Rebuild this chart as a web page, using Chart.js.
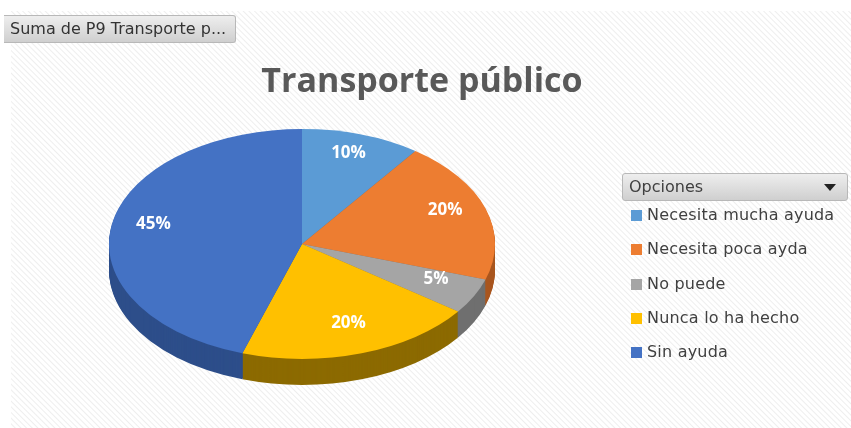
<!DOCTYPE html>
<html>
<head>
<meta charset="utf-8">
<script src="https://cdn.jsdelivr.net/npm/chart.js@4.4.1/dist/chart.umd.min.js"></script>
<style>
  html, body { margin: 0; padding: 0; background: #fff; }
  #wrap {
    position: relative; width: 851px; height: 428px; overflow: hidden;
    font-family: "DejaVu Sans", sans-serif;
  }
  #bg {
    position: absolute; left: 11px; top: 11px; right: 0; bottom: 0;
    background: repeating-linear-gradient(45deg, #ffffff 0px, #ffffff 2px, #eeeeee 3px, #ffffff 4px);
  }
  #chart { position: absolute; left: 0; top: 0; }
  .btn {
    position: absolute; box-sizing: border-box;
    background: linear-gradient(#eeeeee, #cfcfcf);
    border: 1px solid #b8b8b8; border-radius: 3px;
    color: #333; font-size: 16px; line-height: 26px; white-space: nowrap;
  }
  #fieldBtn { left: 4px; top: 15px; width: 232px; height: 28px; padding-left: 6px; border-left: none; border-radius: 0 3px 3px 0; }
  #optBtn { left: 622px; top: 173px; width: 226px; height: 28px; padding-left: 6px; color: #404040; }
  #optBtn .arrow {
    position: absolute; right: 11px; top: 10px; width: 0; height: 0;
    border-left: 6px solid transparent; border-right: 6px solid transparent; border-top: 7px solid #222;
  }
  #legend { position: absolute; left: 631px; top: 205px; margin: 0; padding: 0; list-style: none; }
  #legend li { height: 34.3px; font-size: 16px; letter-spacing: 0.2px; color: #404040; white-space: nowrap; display: flex; align-items: flex-start; }
  #legend span.box { display: inline-block; width: 11px; height: 11px; margin: 5px 5px 0 0; }
</style>
</head>
<body>
<div id="wrap">
  <div id="bg"></div>
  <canvas id="chart" width="851" height="428"></canvas>
  <div class="btn" id="fieldBtn">Suma de P9 Transporte p...</div>
  <div class="btn" id="optBtn">Opciones<span class="arrow"></span></div>
  <ul id="legend"></ul>
</div>
<script>
// ===== DATA =====
const chartTitle = "Transporte público";
const categories = ["Necesita mucha ayuda", "Necesita poca ayda", "No puede", "Nunca lo ha hecho", "Sin ayuda"];
const values = [2, 4, 1, 4, 9];
const colors = ["#5b9bd5", "#ed7d31", "#a5a5a5", "#ffc000", "#4472c4"];
const sideColors = ["#3f6f9a", "#a9561f", "#6f6f6f", "#8c6a00", "#2d4e8a"];

// ===== 3D LOOK =====
// the pie is drawn as a circle by Chart.js, then squashed into an ellipse
const view = { cx: 302, cy: 244, rx: 193, ry: 115, depth: 26 };

function arcPath(ctx, a) {
  ctx.beginPath();
  ctx.moveTo(a.x, a.y);
  ctx.arc(a.x, a.y, a.outerRadius, a.startAngle, a.endAngle);
  ctx.closePath();
}

function setView(ctx, a, dy) {
  const r = a.outerRadius;
  ctx.translate(view.cx, view.cy + dy);
  ctx.scale(view.rx / r, view.ry / r);
  ctx.translate(-a.x, -a.y);
}

const pie3d = {
  id: "pie3d",
  beforeDatasetsDraw(chart) {
    const ctx = chart.ctx;
    const arcs = chart.getDatasetMeta(0).data;
    // side wall: stacked copies in darker colours
    for (let k = view.depth; k >= 1; k--) {
      arcs.forEach((a, i) => {
        ctx.save();
        setView(ctx, a, k);
        arcPath(ctx, a);
        ctx.fillStyle = sideColors[i];
        ctx.fill();
        ctx.restore();
      });
    }
    // top face
    arcs.forEach((a, i) => {
      ctx.save();
      setView(ctx, a, 0);
      arcPath(ctx, a);
      ctx.fillStyle = colors[i];
      ctx.fill();
      ctx.restore();
    });
    return false;
  },
  afterDraw(chart) {
    // percentage labels
    const ctx = chart.ctx;
    const arcs = chart.getDatasetMeta(0).data;
    const total = values.reduce((s, v) => s + v, 0);
    ctx.save();
    ctx.font = "bold 17px 'Open Sans', sans-serif";
    ctx.fillStyle = "#ffffff";
    ctx.textAlign = "center";
    ctx.textBaseline = "middle";
    arcs.forEach((a, i) => {
      const mid = (a.startAngle + a.endAngle) / 2;
      const f = 0.78;
      const x = view.cx + Math.cos(mid) * view.rx * f;
      const y = view.cy - 6 + Math.sin(mid) * view.ry * f;
      ctx.fillText(Math.round(values[i] / total * 100) + "%", x, y);
    });
    ctx.restore();
  }
};

// ===== CHART =====
const ctx = document.getElementById("chart").getContext("2d");

const pieChart = new Chart(ctx, {
  type: "pie",
  data: {
    labels: categories,
    datasets: [
      {
        data: values,
        backgroundColor: colors,
        borderWidth: 0
      }
    ]
  },
  options: {
    responsive: false,
    animation: false,
    layout: { padding: { left: 0, right: 7, top: 62, bottom: 20 } },
    plugins: {
      legend: { display: false },
      tooltip: { enabled: false },
      title: {
        display: true,
        text: chartTitle,
        color: "#595959",
        font: { family: "'Open Sans', sans-serif", size: 34, weight: "bold" },
        padding: { top: 0, bottom: 10 }
      }
    }
  },
  plugins: [pie3d]
});

// ===== LEGEND =====
const legendEl = document.getElementById("legend");
categories.forEach((c, i) => {
  const li = document.createElement("li");
  li.innerHTML = `<span class="box" style="background:${colors[i]}"></span>${c}`;
  legendEl.appendChild(li);
});
</script>
</body>
</html>
